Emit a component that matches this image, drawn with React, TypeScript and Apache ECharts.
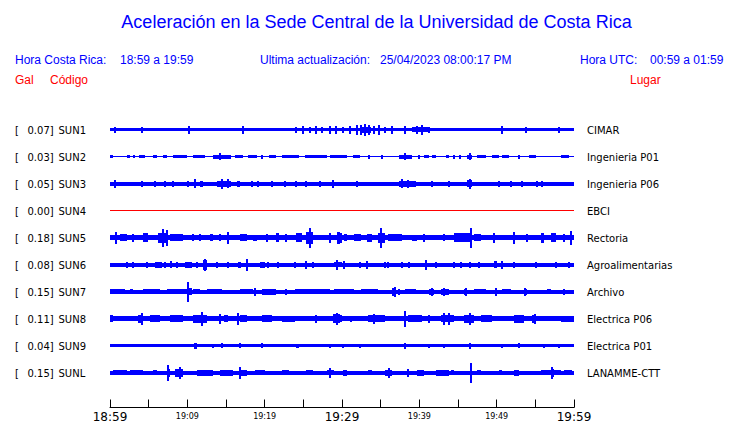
import React, { useEffect, useRef } from "react";
import * as echarts from "echarts";

// ---------- DATA ----------
const titleText = "Aceleración en la Sede Central de la Universidad de Costa Rica";
const localRange = "18:59 a 19:59";
const utcRange = "00:59 a 01:59";
const lastUpdate = "25/04/2023 08:00:17 PM";

const codes = ["SUN1", "SUN2", "SUN3", "SUN4", "SUN5", "SUN6", "SUN7", "SUN8", "SUN9", "SUNL"];
const places = ["CIMAR", "Ingenieria P01", "Ingenieria P06", "EBCI", "Rectoria", "Agroalimentarias", "Archivo", "Electrica P06", "Electrica P01", "LANAMME-CTT"];
const peakGal = ["0.07", "0.03", "0.05", "0.00", "0.18", "0.08", "0.15", "0.11", "0.04", "0.15"];

// x axis: minutes after 18:59 (0..60)
const tickLabels = ["18:59", "19:09", "19:19", "19:29", "19:39", "19:49", "19:59"];
const majorLabels = ["18:59", "19:29", "19:59"];

// background amplitude of each trace (trace units)
const baseAmp = [1.5, 0.5, 2, 0.5, 2.5, 2, 2, 2.5, 1.5, 2];

// bursts: [start minute, end minute, half amplitude]
const sun1 = [[0.6,0.6,3],[4.1,4.1,3],[10.2,10.2,4],[17.2,17.2,4],[24.1,24.1,3],[24.9,24.9,4],[25.8,25.8,3],[26.6,26.6,4],[27.4,27.4,3],[28.4,28.4,4],[29.2,29.2,4],[30.1,30.1,3],[31.0,31.0,4],[31.9,31.9,5],[32.3,33.8,3],[32.5,32.5,5],[33.0,33.0,6],[33.5,33.5,5],[34.2,34.2,4],[34.8,34.8,5],[35.5,35.5,3],[36.5,36.5,4],[38.1,38.1,4],[39.7,39.7,4],[40.4,40.4,5],[39.0,41.3,2.5],[41.3,41.3,3],[50.7,50.7,4],[53.8,53.8,3],[58.1,58.1,3]];
const sun2 = [[0,0.4,1.5],[2.2,2.6,1.5],[3.0,3.2,1.5],[3.7,4.5,1.5],[5.5,6.1,1.5],[6.8,7.4,1.5],[8.1,9.9,1.5],[10.7,12.3,1.5],[13.3,15.7,2],[14.2,14.2,3.5],[16.1,17.2,1.5],[17.8,19.0,1.5],[19.7,19.7,2],[20.6,21.5,1.5],[22.3,24.5,1.5],[25.2,28.0,1.5],[28.4,29.7,1.5],[29.7,30.6,1.5],[31.4,32.3,1.5],[33.5,33.5,2],[35.2,35.2,2],[37.4,39.1,2],[38.1,38.1,3.5],[40.0,40.0,2],[40.6,41.3,1.5],[41.7,42.2,1.5],[43.5,43.9,1.5],[44.5,44.5,2],[45.2,45.2,2],[46.2,46.8,2],[46.5,46.5,3.5],[47.4,48.6,1.5],[49.4,50.3,1.5],[50.7,51.6,1.5],[52.9,52.9,2],[54.2,55.1,1.5],[58.3,59.4,1.5]];
const sun3 = [[0.6,0.6,4],[4.1,4.1,3],[5.8,5.8,3],[7.1,7.1,3],[8.1,8.1,3],[10.1,10.1,3],[11.0,11.0,4.5],[11.6,12.0,3],[13.9,15.7,3],[14.5,14.5,5],[15.2,15.2,4.5],[16.4,16.8,3],[18.3,18.3,3],[19.1,19.1,3],[21.0,21.0,3],[22.6,22.6,3],[24.1,24.1,3],[25.4,25.4,3],[27.1,27.1,3],[28.8,28.8,4],[31.9,31.9,3],[37.4,39.6,3],[37.7,37.7,4.5],[38.5,38.5,4],[41.7,41.7,3],[43.9,43.9,3],[46.1,46.8,3.5],[46.5,46.5,5],[50.3,50.3,3],[51.9,51.9,3],[53.3,53.3,3],[55.2,55.2,3],[55.9,55.9,3]];
const sun4: number[][] = [];
const sun5 = [[0.6,0.9,6],[1.3,2.2,3.5],[3.0,3.0,4],[4.3,4.9,4.5],[6.2,7.4,5],[6.8,6.8,9],[7.4,7.4,8],[7.7,9.4,3.5],[10.7,10.7,3.5],[11.6,11.6,3.5],[12.9,13.3,3.5],[14.2,14.2,3.5],[15.2,15.2,6],[16.8,17.7,3.5],[18.5,19.0,3.2],[20.3,20.3,4],[21.5,21.9,4.5],[22.8,22.8,4],[24.1,24.8,4.5],[25.4,26.2,6],[25.8,25.8,10],[28.4,28.4,5],[29.3,29.7,6],[29.7,30.0,5],[30.3,30.7,3.5],[31.6,32.5,3.5],[33.2,33.9,4],[34.6,35.5,5],[35.0,35.0,10],[35.9,37.7,3.5],[39.0,39.7,3.2],[40.6,40.6,4],[43.2,43.2,3.5],[44.5,46.5,4.5],[46.7,46.7,10],[47.1,48.0,3.5],[49.7,49.7,5],[52.3,52.3,6],[53.9,53.9,4],[55.7,56.1,5],[57.0,57.7,4.5],[58.7,58.7,4],[59.6,59.7,7]];
const sun6 = [[2.2,2.2,3],[3.0,3.0,3],[4.8,4.8,3],[5.8,6.7,3],[7.1,7.1,3],[7.7,8.0,3.5],[8.6,8.6,3],[9.7,10.6,3],[11.2,11.2,3],[12.0,12.5,5],[12.3,12.3,6],[13.8,13.8,3],[15.2,15.2,3],[16.5,17.0,3],[17.7,17.8,6],[19.4,20.0,3],[20.4,20.4,3],[21.7,21.7,3],[23.9,23.9,3],[25.4,25.4,4],[26.2,26.2,3],[29.3,29.3,5],[29.0,30.0,2.5],[30.3,30.3,4],[32.3,32.3,3],[33.2,33.2,4],[35.5,35.5,3],[35.9,35.9,3],[37.7,37.7,3],[38.7,38.7,3],[40.9,40.9,5],[42.2,42.2,3],[44.5,44.5,3],[45.4,45.4,3],[46.5,46.5,3],[47.7,47.7,3],[49.7,50.1,3.5],[50.7,50.7,4],[52.3,52.3,3],[55.1,55.1,3],[57.7,57.7,3],[59.4,59.4,3]];
const sun7 = [[0,1.9,2.5],[2.6,3.0,2.5],[4.3,6.5,2.5],[7.4,9.9,2.5],[10.1,10.1,10],[9.9,10.6,3.5],[10.7,11.6,2.5],[12.5,14.5,2.5],[16.8,18.5,2.5],[18.7,18.7,4],[19.7,21.5,3],[22.8,22.8,3],[23.9,28.4,2.5],[29.0,31.6,2.5],[32.5,34.6,2.5],[36.5,37.0,4],[36.8,36.8,5],[37.4,37.4,3],[38.1,39.6,2.5],[41.3,41.9,3],[41.6,41.6,4],[42.8,43.9,3],[43.2,43.2,4],[45.8,46.2,3],[46.0,46.0,4],[47.1,48.6,2.5],[49.9,49.9,4],[50.7,51.9,2.5],[53.5,53.9,3],[53.7,53.7,4],[56.5,57.0,2.5],[58.7,58.7,3]];
const sun8 = [[0,0.4,3.5],[3.6,4.3,4],[4.1,4.1,6],[5.2,6.5,3.3],[7.7,9.4,3.3],[10.7,12.5,4],[11.9,11.9,7],[14.2,14.2,5],[14.7,15.2,3.3],[16.5,16.5,6],[16.8,17.7,3.3],[19.7,21.0,3.3],[22.3,23.9,3],[26.7,26.7,4],[28.8,29.7,4.5],[29.3,29.3,6],[29.7,30.0,3.3],[31.2,31.2,3],[33.3,35.5,3.8],[34.2,34.2,5],[38.1,38.1,8],[38.5,40.3,3.3],[41.3,41.3,4],[42.8,44.5,3.8],[43.2,43.2,6],[43.9,43.9,6],[45.8,47.1,4],[46.5,46.5,6],[48.0,49.4,3.3],[52.3,53.5,4],[54.6,55.1,4],[54.9,54.9,5],[58.3,60,3]];
const sun9 = [[10.9,11.2,3],[13.3,13.3,2],[14.5,14.5,2.5],[16.8,16.8,2.5],[19.7,19.7,2.5],[24.1,24.5,2],[28.4,28.4,2],[30.1,30.1,2],[32.3,32.3,2],[38.1,38.1,3],[41.3,41.3,2],[43.2,43.2,2],[46.5,46.5,3],[50.7,50.7,2],[52.9,52.9,2.5],[56.1,56.1,2],[58.1,58.1,2]];
const sunl = [[0.4,2.2,2.5],[2.6,4.3,2.5],[5.5,6.1,2.5],[7.4,7.7,4],[7.5,7.5,8],[8.4,9.4,4],[9.0,9.0,6],[11.2,13.3,3],[14.2,15.9,3],[16.8,17.7,3],[16.8,16.8,6],[18.7,20.0,2.5],[22.3,23.2,2.5],[25.4,26.2,2.5],[28.0,29.0,2.5],[28.4,28.4,5],[30.1,30.6,3],[33.3,33.9,2.5],[35.5,36.5,3],[36.1,36.1,5],[38.5,38.5,4],[39.7,40.6,3],[42.2,43.9,3],[44.1,44.5,2.5],[46.7,46.7,10],[47.4,48.0,2.5],[50.3,50.7,2.5],[52.3,52.9,3],[55.7,56.1,2.5],[57.0,57.4,4],[57.2,57.2,6],[56.1,58.3,2.5],[58.7,59.7,2.5]];

const traces = [sun1, sun2, sun3, sun4, sun5, sun6, sun7, sun8, sun9, sunl];

// ---------- LAYOUT ----------
const W = 740;
const H = 423;
const TRACE_SPACING = 27; // trace offset in y-axis units
const Y_MAX = 305;
const GRID_TOP = 103;
const BLUE = "#0000ff";
const RED = "#ff0000";

function buildOption() {
  const series: any[] = traces.map((bursts, i) => {
    const center = (i + 1) * TRACE_SPACING;
    const color = codes[i] === "SUN4" ? RED : BLUE;
    const data = [[0, 60, baseAmp[i], center], ...bursts.map((b) => [b[0], b[1], b[2], center])];
    return {
      type: "custom",
      name: codes[i],
      silent: true,
      clip: false,
      encode: { x: [0, 1], y: 3 },
      renderItem: (_p: any, api: any) => {
        const t0 = api.value(0), t1 = api.value(1), a = api.value(2), c = api.value(3);
        const p0 = api.coord([t0, c - a]);
        const p1 = api.coord([t1, c + a]);
        let x0 = Math.round(Math.min(p0[0], p1[0]));
        let x1 = Math.round(Math.max(p0[0], p1[0]));
        if (x1 - x0 < 2) {
          const mid = Math.round((p0[0] + p1[0]) / 2);
          x0 = mid - 1;
          x1 = mid + 1;
        }
        const y0 = Math.round(Math.min(p0[1], p1[1]));
        const y1 = Math.max(y0 + 1, Math.round(Math.max(p0[1], p1[1])));
        return {
          type: "rect",
          shape: { x: x0, y: y0, width: x1 - x0, height: y1 - y0 },
          style: { fill: color },
        };
      },
      data,
    };
  });

  const txt = (text: string, x: number, y: number, size: number, fam: string, fill: string, align = "left") => ({
    type: "text",
    x,
    y,
    silent: true,
    style: {
      text,
      fill,
      fontSize: size,
      fontFamily: fam,
      align,
      verticalAlign: "middle",
      textAlign: align,
      textVerticalAlign: "middle",
    },
  });

  const LS = '"Liberation Sans", Arial, sans-serif';
  const DV = '"DejaVu Sans", sans-serif';
  const graphics: any[] = [
    txt(titleText, 376.5, 22, 18, LS, BLUE, "center"),
    txt("Hora Costa Rica:", 15, 60, 12, LS, BLUE),
    txt(localRange, 120, 60, 12, LS, BLUE),
    txt("Ultima actualización:", 260, 60, 12, LS, BLUE),
    txt(lastUpdate, 380, 60, 12, LS, BLUE),
    txt("Hora UTC:", 580, 60, 12, LS, BLUE),
    txt(utcRange, 650, 60, 12, LS, BLUE),
    txt("Gal", 15, 80, 12, LS, RED),
    txt("Código", 50, 80, 12, LS, RED),
    txt("Lugar", 630, 80, 12, LS, RED),
  ];
  codes.forEach((code, i) => {
    const y = GRID_TOP + (i + 1) * TRACE_SPACING;
    graphics.push(txt("[", 15, y, 10, DV, "#000"));
    graphics.push(txt(peakGal[i] + "]", 27.5, y, 10, DV, "#000"));
    graphics.push(txt(code, 58.5, y, 10, DV, "#000"));
    graphics.push(txt(places[i], 587, y, 10, DV, "#000"));
  });

  return {
    animation: false,
    backgroundColor: "#ffffff",
    grid: { left: 110, width: 464, top: GRID_TOP, bottom: 15 },
    xAxis: {
      type: "value",
      position: "bottom",
      min: 0,
      max: 60,
      interval: 5,
      splitLine: { show: false },
      axisLine: { show: true, onZero: false, lineStyle: { color: "#000", width: 1 } },
      axisTick: { show: true, inside: true, length: 8, lineStyle: { color: "#000", width: 1 } },
      axisLabel: {
        show: true,
        margin: 3,
        color: "#000",
        formatter: (v: number) => {
          if (v % 10 !== 0) return "";
          const lab = tickLabels[v / 10];
          return majorLabels.includes(lab) ? `{big|${lab}}` : `{small|${lab}}`;
        },
        rich: {
          big: { fontSize: 12, fontFamily: '"DejaVu Sans", sans-serif', color: "#000", lineHeight: 13 },
          small: { fontSize: 8, fontFamily: '"DejaVu Sans", sans-serif', color: "#000", lineHeight: 12 },
        },
      },
    },
    yAxis: { type: "value", min: 0, max: Y_MAX, inverse: true, show: false, splitLine: { show: false } },
    graphic: graphics,
    series,
  };
}

export default function App() {
  const ref = useRef<HTMLDivElement>(null);
  useEffect(() => {
    if (!ref.current) return;
    const chart = echarts.init(ref.current, null, { renderer: "svg" });
    chart.setOption(buildOption() as any);
    return () => chart.dispose();
  }, []);
  return (
    <div
      ref={ref}
      style={{ position: "fixed", left: 0, top: 0, width: W, height: H, background: "#fff" }}
    />
  );
}
